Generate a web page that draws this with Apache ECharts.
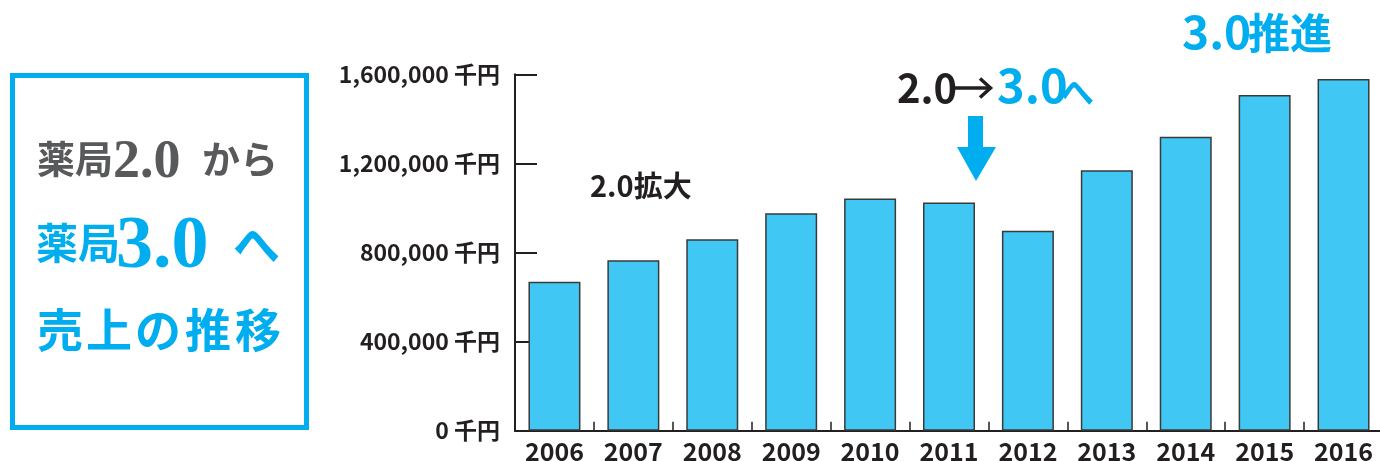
<!DOCTYPE html>
<html>
<head>
<meta charset="utf-8">
<script src="https://cdn.jsdelivr.net/npm/echarts@6/dist/echarts.min.js"></script>
<style>
html,body{margin:0;padding:0;background:#fff;}
#c{width:1380px;height:461px;}
</style>
</head>
<body>
<div id="c"></div>
<script>
const years = ['2006','2007','2008','2009','2010','2011','2012','2013','2014','2015','2016'];
const sales = [669000, 765000, 859000, 976000, 1042000, 1024000, 898000, 1169000, 1320000, 1507000, 1579000];
const yTicks = [0, 400000, 800000, 1200000, 1600000];
const yTickLabels = ['0 千円', '400,000 千円', '800,000 千円', '1,200,000 千円', '1,600,000 千円'];

const BLUE = '#00aeef';
const INK = '#231f20';
const SANS = '"Noto Sans CJK JP", "Noto Sans", sans-serif';
const SERIF = '"Liberation Serif", "DejaVu Serif", "Noto Sans CJK JP", serif';

function t(text, x, y, size, color, family, weight, align) {
  return {
    type: 'text', x: x, y: y, silent: true,
    style: {
      text: text, fill: color, fontSize: size, fontFamily: family,
      fontWeight: weight || 'bold', align: align || 'left', verticalAlign: 'middle'
    }
  };
}

const chart = echarts.init(document.getElementById('c'));
const option = {
  backgroundColor: '#ffffff',
  animation: false,
  grid: { left: 515, top: 74.3, right: -3, bottom: 30.3, outerBoundsMode: 'none', containLabel: false },
  xAxis: {
    type: 'category',
    data: years,
    axisLine: { lineStyle: { color: INK, width: 2 } },
    axisTick: { show: true, inside: true, length: 9, lineStyle: { color: INK, width: 1.5 } },
    axisLabel: { color: INK, fontSize: 25, fontWeight: 'bold', fontFamily: SANS, margin: 8 }
  },
  yAxis: {
    type: 'value',
    min: 0, max: 1600000, interval: 400000,
    splitLine: { show: false },
    axisLine: { show: true, lineStyle: { color: INK, width: 2 } },
    axisTick: { show: true, inside: true, length: 22, lineStyle: { color: INK, width: 2 } },
    axisLabel: {
      color: INK, fontSize: 23, fontWeight: 'bold', fontFamily: SANS, margin: 15,
      formatter: function (v) { const i = yTicks.indexOf(v); return i >= 0 ? yTickLabels[i] : ''; }
    }
  },
  series: [{
    type: 'bar',
    data: sales,
    barWidth: 52,
    itemStyle: { color: '#40c7f4', borderColor: '#3a3a3a', borderWidth: 1.5 }
  }],
  graphic: [
    // left box
    { type: 'rect', silent: true, shape: { x: 12.5, y: 75.5, width: 294, height: 352 },
      style: { fill: 'none', stroke: BLUE, lineWidth: 5 } },
    t('薬局', 37, 163, 38, '#58595b', SERIF),
    t('2.0', 113, 163, 54, '#58595b', SERIF),
    t('から', 202, 163, 38, '#58595b', SERIF),
    t('薬局', 36, 248, 42, BLUE, SERIF),
    t('3.0', 116, 248, 74, BLUE, SERIF),
    t('へ', 233, 250, 47, BLUE, SERIF),
    t('売', 37, 335, 46, BLUE, SERIF),
    t('上', 86, 335, 46, BLUE, SERIF),
    t('の', 135, 335, 46, BLUE, SERIF),
    t('推', 185, 335, 46, BLUE, SERIF),
    t('移', 235, 335, 46, BLUE, SERIF),
    // annotations
    t('2.0拡大', 590, 186, 29, INK, SANS),
    t('2.0', 897, 88, 40, INK, SANS),
    { type: 'line', silent: true, shape: { x1: 951, y1: 88, x2: 990, y2: 88 },
      style: { stroke: INK, lineWidth: 3.5 } },
    { type: 'polyline', silent: true, shape: { points: [[980, 78.5], [990.5, 88], [980, 97.5]] },
      style: { stroke: INK, lineWidth: 3.5, fill: 'none' } },
    t('3.0', 997, 85, 47, BLUE, SANS),
    t('へ', 1060, 92, 34, BLUE, SANS),
    t('3.0', 1182, 32, 46, BLUE, SANS),
    t('推進', 1248, 33, 42, BLUE, SANS),
    { type: 'polygon', silent: true,
      shape: { points: [[968,116],[983,116],[983,147],[996,147],[976,181],[957,147],[968,147]] },
      style: { fill: BLUE } }
  ]
};
chart.setOption(option);
</script>
</body>
</html>
